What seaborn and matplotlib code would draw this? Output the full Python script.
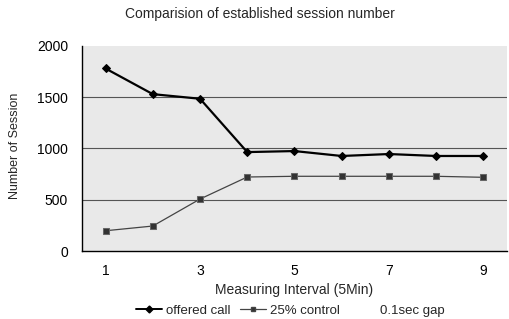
import numpy as np
import pandas as pd
import matplotlib
matplotlib.use("Agg")
import matplotlib.pyplot as plt
from matplotlib.lines import Line2D
import seaborn as sns

intervals = [1, 2, 3, 4, 5, 6, 7, 8, 9]
offered_call = [1780, 1530, 1485, 965, 975, 927, 946, 927, 927]
control_25 = [198, 244, 507, 722, 729, 729, 729, 729, 719]
series_names = ["offered call", "25% control", "0.1sec gap"]
x_ticks = [1, 3, 5, 7, 9]
y_ticks = [0, 500, 1000, 1500, 2000]

sns.set_theme(style="white")
plt.rcParams["font.family"] = ["Liberation Sans", "DejaVu Sans"]

fig = plt.figure(figsize=(5.09, 3.19), dpi=100)
ax = fig.add_axes([0.161, 0.213, 0.835, 0.643])
ax.set_facecolor("#e9e9e9")

ax.set_ylim(0, 2000)
ax.set_xlim(0.5, 9.5)
for y in y_ticks[1:-1]:
    ax.axhline(y, color="#555555", lw=0.8, zorder=1)

sns.lineplot(x=intervals, y=offered_call, ax=ax, color="black", lw=1.6,
             marker="D", markersize=4.5, markeredgecolor="black", zorder=3)
sns.lineplot(x=intervals, y=control_25, ax=ax, color="#444444", lw=0.9,
             marker="s", markersize=4.5, markerfacecolor="#333333",
             markeredgecolor="#666666", zorder=3)

ax.set_xticks(x_ticks)
ax.set_yticks(y_ticks)
ax.tick_params(axis="both", length=0, labelsize=10, colors="black")
ax.tick_params(axis="y", pad=10)
ax.tick_params(axis="x", pad=9)
for side in ["top", "right"]:
    ax.spines[side].set_visible(False)
for side in ["left", "bottom"]:
    ax.spines[side].set_color("black")
    ax.spines[side].set_linewidth(1.0)

ax.set_xlabel("Measuring Interval (5Min)", fontsize=10, labelpad=4)
ax.set_ylabel("")
fig.text(0.03, 0.542, "Number of Session", rotation=90, fontsize=9,
         ha="center", va="center")
fig.text(0.51, 0.956, "Comparision of established session number",
         fontsize=10, ha="center", va="center")

handles = [
    Line2D([], [], color="black", lw=1.4, marker="D", markersize=3.5),
    Line2D([], [], color="#444444", lw=0.9, marker="s", markersize=3.5,
           markerfacecolor="#333333"),
    Line2D([], [], color="white", lw=0),
]
fig.legend(handles, series_names, loc="center", bbox_to_anchor=(0.57, 0.027),
           ncol=3, frameon=False, fontsize=9.5, handlelength=2.0,
           handletextpad=0.3, columnspacing=0.7)

fig.savefig("out.png", dpi=100)
